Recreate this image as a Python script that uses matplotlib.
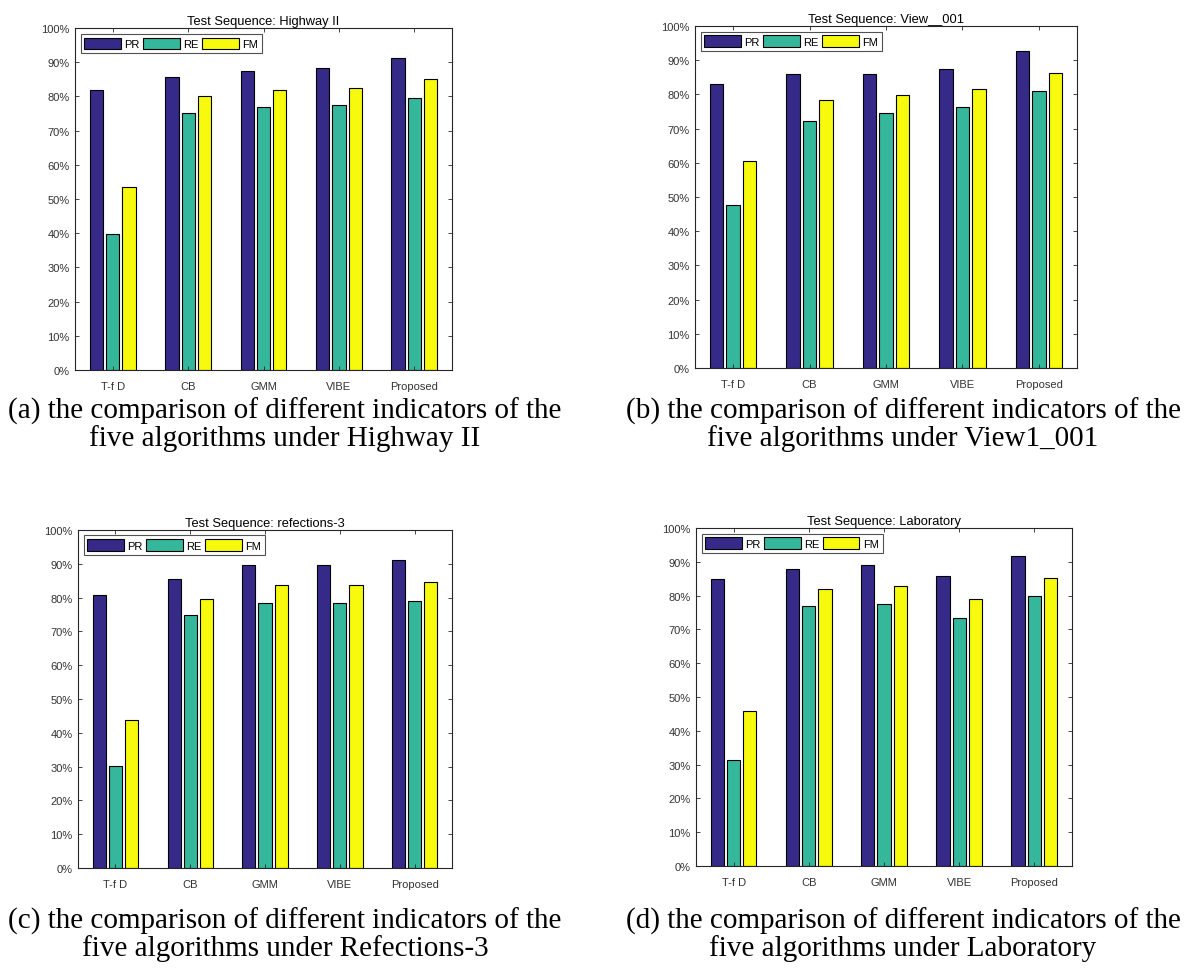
import matplotlib
matplotlib.use("Agg")
import matplotlib.pyplot as plt
import numpy as np

plt.rcParams["font.family"] = ["Liberation Sans", "DejaVu Sans"]

algorithms = ["T-f D", "CB", "GMM", "VIBE", "Proposed"]
series_names = ["PR", "RE", "FM"]
colors = ["#352a87", "#35b79c", "#f8fa0d"]

# values in percent
highway_pr = [81.9, 85.7, 87.5, 88.4, 91.3]
highway_re = [39.7, 75.2, 77.0, 77.5, 79.6]
highway_fm = [53.4, 80.2, 81.9, 82.5, 85.2]

view_pr = [82.9, 86.0, 86.0, 87.5, 92.7]
view_re = [47.7, 72.3, 74.7, 76.4, 81.1]
view_fm = [60.6, 78.5, 79.9, 81.6, 86.4]

refl_pr = [80.8, 85.6, 89.6, 89.6, 91.1]
refl_re = [30.2, 74.7, 78.5, 78.5, 79.1]
refl_fm = [43.9, 79.7, 83.7, 83.7, 84.6]

lab_pr = [84.9, 87.9, 89.0, 85.7, 91.6]
lab_re = [31.5, 77.0, 77.6, 73.5, 79.9]
lab_fm = [45.9, 82.0, 82.9, 79.1, 85.2]

panels = [
    ("Test Sequence: Highway II", [highway_pr, highway_re, highway_fm],
     [0.0628, 0.621, 0.3155, 0.3493],
     "(a) the comparison of different indicators of the\nfive algorithms under Highway II", (285, 425)),
    ("Test Sequence: View__001", [view_pr, view_re, view_fm],
     [0.5816, 0.6231, 0.3197, 0.3493],
     "(b) the comparison of different indicators of the\nfive algorithms under View1_001", (903, 425)),
    ("Test Sequence: refections-3", [refl_pr, refl_re, refl_fm],
     [0.0653, 0.1124, 0.313, 0.3453],
     "(c) the comparison of different indicators of the\nfive algorithms under Refections-3", (285, 935)),
    ("Test Sequence: Laboratory", [lab_pr, lab_re, lab_fm],
     [0.5824, 0.1144, 0.3146, 0.3453],
     "(d) the comparison of different indicators of the\nfive algorithms under Laboratory", (903, 935)),
]

W, H = 1195, 979
fig = plt.figure(figsize=(W / 100, H / 100), dpi=100)

x = np.arange(len(algorithms))
pitch = 0.216
width = 0.176
axis_gray = "#262626"

for title, series, rect, caption, (cx, cy) in panels:
    ax = fig.add_axes(rect)
    for i, (vals, name, col) in enumerate(zip(series, series_names, colors)):
        ax.bar(x + (i - 1) * pitch, vals, width, color=col, edgecolor="black",
               linewidth=0.8, label=name)
    ax.set_xlim(-0.5, len(algorithms) - 0.5)
    ax.set_ylim(0, 100)
    ax.set_yticks(np.arange(0, 101, 10))
    ax.set_yticklabels([f"{v}%" for v in range(0, 101, 10)])
    ax.set_xticks(x)
    ax.set_xticklabels(algorithms)
    ax.tick_params(direction="in", top=True, right=True, length=3, width=0.6,
                   labelsize=8, colors=axis_gray, labelcolor="#333333")
    ax.tick_params(axis="x", pad=8)
    ax.tick_params(axis="y", pad=4)
    for sp in ax.spines.values():
        sp.set_color(axis_gray)
        sp.set_linewidth(0.8)
    ax.set_title(title, fontsize=9.3, color="black", pad=3)
    leg = ax.legend(loc="upper left", ncol=3, fontsize=8, frameon=True,
                    fancybox=False, edgecolor=axis_gray, handlelength=3.3,
                    handleheight=1.2, columnspacing=0.3, handletextpad=0.3,
                    borderpad=0.35, borderaxespad=0.5)
    leg.get_frame().set_linewidth(0.8)
    fig.text(cx / W, 1 - cy / H, caption, ha="center", va="center",
             fontsize=21, family="Liberation Serif", linespacing=1.0)

fig.savefig("out.png", dpi=100)
